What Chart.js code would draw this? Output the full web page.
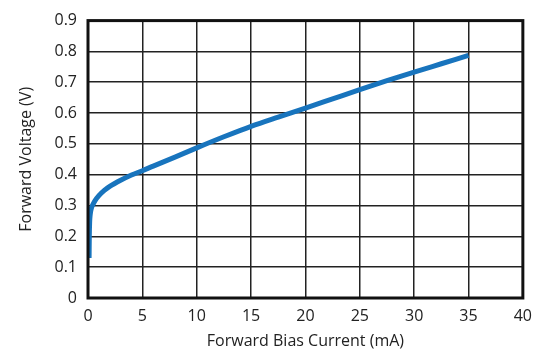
<!DOCTYPE html>
<html>
<head>
<meta charset="utf-8">
<script src="https://cdn.jsdelivr.net/npm/chart.js@4/dist/chart.umd.min.js"></script>
<style>
  html, body { margin: 0; padding: 0; background: #fff; }
  #wrap { width: 541px; height: 354px; }
</style>
</head>
<body>
<div id="wrap"><canvas id="c" width="541" height="354"></canvas></div>
<script>
// Forward bias current (mA) vs. forward voltage (V)
const currentMA = [0.1, 0.12, 0.15, 0.2, 0.3, 0.45, 0.65, 1.0, 1.5, 2, 3, 4, 5, 6, 8, 10, 12.5, 15, 17.5, 20, 22.5, 25, 27.5, 30, 32.5, 35];
const voltageV  = [0.13, 0.2, 0.245, 0.27, 0.29, 0.303, 0.316, 0.332, 0.349, 0.362, 0.382, 0.399, 0.413, 0.428, 0.457, 0.487, 0.523, 0.557, 0.587, 0.616, 0.646, 0.676, 0.705, 0.733, 0.76, 0.787];
const xTicks = [0, 5, 10, 15, 20, 25, 30, 35, 40];
const yTicks = [0, 0.1, 0.2, 0.3, 0.4, 0.5, 0.6, 0.7, 0.8, 0.9];

const points = currentMA.map((x, i) => ({ x: x, y: voltageV[i] }));
const FONT = "'Open Sans', sans-serif";

// thick frame around the plot area
const framePlugin = {
  id: 'frame',
  afterDraw(chart) {
    const a = chart.chartArea, ctx = chart.ctx;
    ctx.save();
    ctx.strokeStyle = '#111';
    ctx.lineWidth = 3;
    ctx.strokeRect(a.left, a.top, a.right - a.left, a.bottom - a.top);
    ctx.restore();
  }
};

new Chart(document.getElementById('c'), {
  type: 'line',
  data: {
    datasets: [{
      data: points,
      borderColor: '#1874bd',
      borderWidth: 5,
      pointRadius: 0,
      fill: false,
      cubicInterpolationMode: 'monotone',
      borderCapStyle: 'butt'
    }]
  },
  options: {
    responsive: false,
    animation: false,
    devicePixelRatio: 1,
    layout: { padding: { top: 11, right: 15, left: 0, bottom: 0 } },
    plugins: { legend: { display: false }, tooltip: { enabled: false } },
    scales: {
      x: {
        type: 'linear',
        min: 0, max: 40,
        afterBuildTicks(scale) { scale.ticks = xTicks.map(v => ({ value: v })); },
        afterFit(scale) { scale.height = 56; },
        grid: { color: '#222', lineWidth: 1.5, drawTicks: false },
        border: { display: false },
        ticks: { color: '#222', font: { family: FONT, size: 16 }, padding: 9, maxRotation: 0,
                 callback: v => String(v) },
        title: { display: true, text: 'Forward Bias Current (mA)', color: '#222',
                 font: { family: FONT, size: 16 }, padding: { top: 0, bottom: 3 } }
      },
      y: {
        type: 'linear',
        min: 0, max: 0.9,
        afterBuildTicks(scale) { scale.ticks = yTicks.map(v => ({ value: v })); },
        afterFit(scale) { scale.width = 88; },
        grid: { color: '#222', lineWidth: 1.5, drawTicks: false },
        border: { display: false },
        ticks: { color: '#222', font: { family: FONT, size: 16 }, padding: 11,
                 callback: v => (v === 0 ? '0' : v.toFixed(1)) },
        title: { display: true, text: 'Forward Voltage (V)', color: '#222',
                 font: { family: FONT, size: 16 }, padding: { top: 17, bottom: 0 } }
      }
    }
  },
  plugins: [framePlugin]
});
</script>
</body>
</html>
